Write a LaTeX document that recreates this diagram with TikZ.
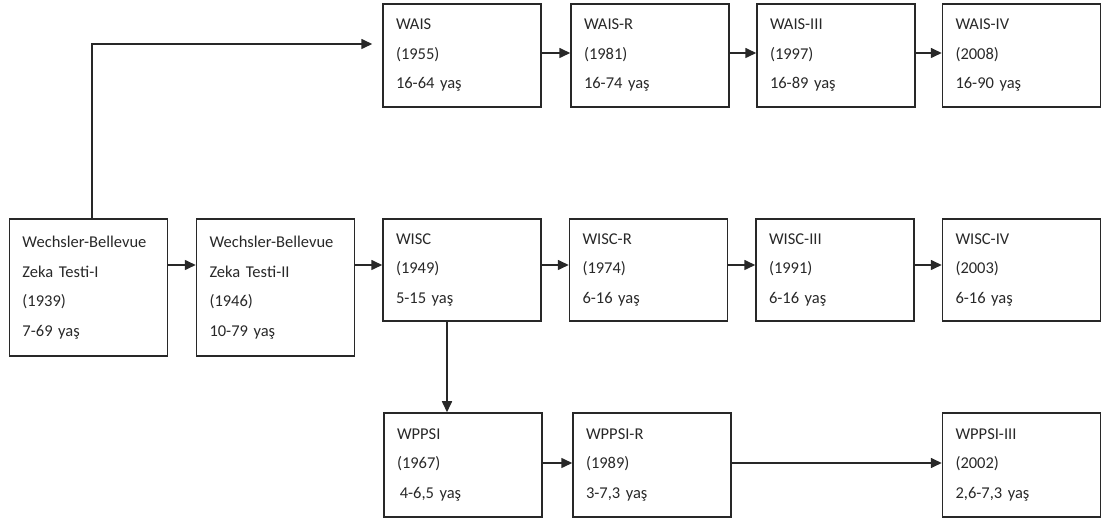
\documentclass[tikz,border=0pt]{standalone}
\usepackage{fontspec}
\setmainfont{Carlito}
\usetikzlibrary{arrows.meta}
\definecolor{ln}{RGB}{40,40,40}
\definecolor{tx}{RGB}{40,40,40}
\tikzset{
  box/.style={draw=ln, line width=1.5pt, rectangle, minimum width=158pt, text width=132pt,
    inner xsep=13pt, inner ysep=0pt, align=left, text=tx,
    font=\fontsize{16.5}{29.5}\selectfont},
  arr/.style={draw=ln, line width=1.6pt, -{Triangle[length=11pt,width=10pt]}}
}
\begin{document}
\begin{tikzpicture}[x=1pt,y=-1pt]
\useasboundingbox (0,0) rectangle (1101,518);
% boxes
\node[box, minimum height=137pt] (wb1) at (88.5,287.5) {Wechsler-Bellevue\\Zeka Tes\kern0pt ti-I\\(1939)\\7-69 yaş};
\node[box, minimum height=137pt] (wb2) at (275.5,287.5) {Wechsler-Bellevue\\Zeka Tes\kern0pt ti-II\\(1946)\\10-79 yaş};
\node[box, minimum height=103pt] (wais) at (462,55.5) {WAIS\\(1955)\\16-64 yaş};
\node[box, minimum height=103pt] (waisr) at (650,55.5) {WAIS-R\\(1981)\\16-74 yaş};
\node[box, minimum height=103pt] (waisiii) at (836,55.5) {WAIS-III\\(1997)\\16-89 yaş};
\node[box, minimum height=103pt] (waisiv) at (1021.5,55.5) {WAIS-IV\\(2008)\\16-90 yaş};
\node[box, minimum height=102pt] (wisc) at (462,270) {WISC\\(1949)\\5-15 yaş};
\node[box, minimum height=102pt] (wiscr) at (648.5,270) {WISC-R\\(1974)\\6-16 yaş};
\node[box, minimum height=102pt] (wisciii) at (835,270) {WISC-III\\(1991)\\6-16 yaş};
\node[box, minimum height=102pt] (wisciv) at (1021.5,270) {WISC-IV\\(2003)\\6-16 yaş};
\node[box, minimum height=104pt] (wppsi) at (463,465) {WPPSI\\(1967)\\\,4-6,5 yaş};
\node[box, minimum height=104pt] (wppsir) at (652,465) {WPPSI-R\\(1989)\\3-7,3 yaş};
\node[box, minimum height=104pt] (wppsiiii) at (1021.5,465) {WPPSI-III\\(2002)\\2,6-7,3 yaş};
% helper coordinates
\coordinate (yA) at (0,53);
\coordinate (yB) at (0,265);
\coordinate (yC) at (0,463);
\coordinate (xUp) at (92,0);
\coordinate (xDn) at (447,0);
\coordinate (yTop) at (0,44);
% connectors
\draw[arr] (wais.east |- yA) -- (waisr.west |- yA);
\draw[arr] (waisr.east |- yA) -- (waisiii.west |- yA);
\draw[arr] (waisiii.east |- yA) -- (waisiv.west |- yA);
\draw[arr] (wb1.east |- yB) -- (wb2.west |- yB);
\draw[arr] (wb2.east |- yB) -- (wisc.west |- yB);
\draw[arr] (wisc.east |- yB) -- (wiscr.west |- yB);
\draw[arr] (wiscr.east |- yB) -- (wisciii.west |- yB);
\draw[arr] (wisciii.east |- yB) -- (wisciv.west |- yB);
\draw[arr] (wppsi.east |- yC) -- (wppsir.west |- yC);
\draw[arr] (wppsir.east |- yC) -- (wppsiiii.west |- yC);
\draw[arr] (wisc.south -| xDn) -- (wppsi.north -| xDn);
\draw[arr, shorten >=10pt] (wb1.north -| xUp) |- (wais.west |- yTop);
\end{tikzpicture}
\end{document}
